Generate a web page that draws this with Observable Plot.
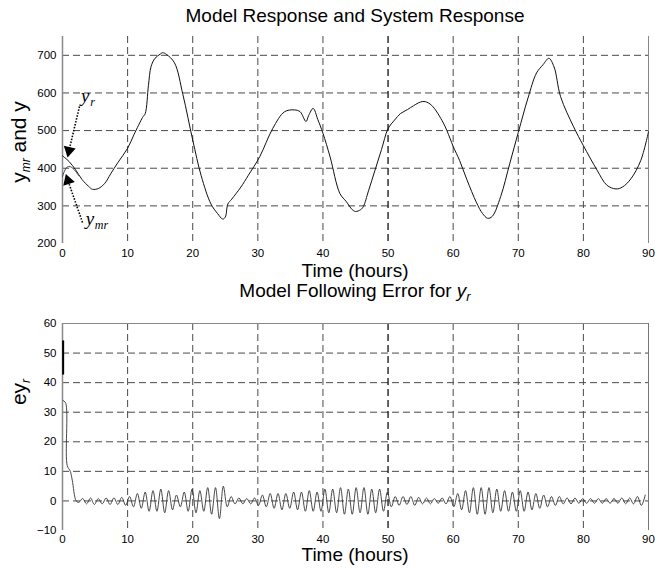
<!DOCTYPE html>
<html>
<head>
<meta charset="utf-8">
<script src="https://cdn.jsdelivr.net/npm/d3@7"></script>
<script src="https://cdn.jsdelivr.net/npm/@observablehq/plot@0.6"></script>
<style>
  body { margin: 0; background: #fff; font-family: "Liberation Sans", Arial, sans-serif; }
  #wrap { position: relative; width: 655px; height: 574px; overflow: hidden; }
  .abs { position: absolute; white-space: nowrap; color: #000; line-height: 1; }
  .title { font-size: 19px; left: 62px; width: 586px; text-align: center; }
  .xlab { font-size: 19px; left: 62px; width: 586px; text-align: center; }
  .ylab { font-size: 21px; transform: translate(-50%, -50%) rotate(-90deg); }
  sub { font-size: 12px; font-style: italic; vertical-align: -4px; line-height: 0; }
  #top, #bot { position: absolute; left: 0; }
</style>
</head>
<body>
<div id="wrap">
  <div id="top" style="top:0px"></div>
  <div id="bot" style="top:285px"></div>
  <div class="abs title" style="top:6px">Model Response and System Response</div>
  <div class="abs xlab" style="top:261px">Time (hours)</div>
  <div class="abs title" style="top:281px">Model Following Error for <i>y</i><sub style="font-size:13px">r</sub></div>
  <div class="abs xlab" style="top:545px">Time (hours)</div>
  <div class="abs ylab" style="left:18px; top:142px">y<sub>mr</sub> and y</div>
  <div class="abs ylab" style="left:18px; top:392px">ey<sub>r</sub></div>
</div>
<script>
// ---- tick values ----
const xTicks = [0, 10, 20, 30, 40, 50, 60, 70, 80, 90];
const topYTicks = [200, 300, 400, 500, 600, 700];
const errYTicks = [-10, 0, 10, 20, 30, 40, 50, 60];

// ---- top panel: system response y_r (hours, value) ----
const yrTime = [0, 1, 2, 3, 4, 4.6, 5.5, 6.5, 7.4, 8.5, 10, 11, 12.3, 12.7, 13.2, 13.6, 14.2, 15, 15.4, 16, 17.2, 18.5, 20, 21.3, 22.8, 23.8, 24.6, 25, 25.4, 26, 27.4, 28.5, 30.3, 32.3, 34.1, 35.6, 36.5, 37.4, 37.8, 38.5, 39.2, 40, 41.1, 42.6, 43.6, 44.5, 45, 45.8, 46.2, 47, 48, 49, 50, 51, 51.9, 53, 53.9, 55, 55.7, 56.7, 58.5, 59.5, 60, 61, 62.1, 63.6, 64.5, 65.3, 66, 67.3, 68.7, 70, 71.5, 72.8, 73.8, 74.7, 75.5, 76.5, 78.5, 80, 82.1, 83.6, 85, 86, 87.3, 88.8, 90];
const yrValue = [433, 418, 396, 370, 352, 344, 346, 360, 385, 415, 453, 490, 535, 545, 620, 670, 692, 703, 707, 702, 680, 595, 475, 380, 305, 280, 265, 270, 305, 318, 350, 380, 431, 506, 550, 555, 550, 524, 540, 559, 530, 493, 430, 333, 311, 290, 285, 290, 298, 340, 395, 450, 505, 528, 545, 556, 566, 576, 577, 567, 520, 480, 458, 420, 370, 308, 280, 267, 272, 325, 413, 495, 587, 653, 675, 692, 669, 590, 510, 460, 395, 355, 345, 350, 372, 420, 497];

// ---- top panel: model response y_mr at the start (where it differs) ----
const ymrTime = [0, 0.3, 0.7, 1.2, 1.8, 2.5];
const ymrValue = [378, 392, 403, 404, 396, 380];

// ---- bottom panel: model following error ey_r ----
const errSpikeTime = [0.1, 0.1];
const errSpikeValue = [54, 43];
const errStartTime = [0.1, 0.5, 0.72, 1.2, 1.5, 2.1];
const errStartValue = [34, 33, 12, 10, 7, 0];
const errOscStart = 2.5, errOscStep = 0.6;   // successive peaks / troughs
const errOscValue = [
  -0.5, 0.8, -1, 1, -1.2, 0.8, -1, 1, -1.2, 1,
  -1.2, 1.2, -1.5, 1.5, -2, 2.5, -2.5, 3, -3.5, 3.5,
  -3.5, 4, -4, 3.5, -3, 2, -2, 3, -3.5, 4,
  -4, 3.5, -3.5, 4.5, -4.5, 4.5, -6, 5, -2, 1.5,
  -1, 1, -1, 0.8, -1, 1, -1.5, 2, -2, 2.5,
  -2.5, 2.5, -3, 2.5, -2.5, 3, -3, 3, -3.5, 3.5,
  -3.5, 3, -3.5, 4, -4, 4, -4, 4.5, -4.5, 4,
  -4.5, 4.5, -4, 4.5, -4.5, 4, -4, 4, -3.5, 3,
  -2, 1.5, -1.5, 1.5, -1.2, 1.5, -1.5, 1.2, -1, 1,
  -1, 0.8, -0.8, 1, -1, 1.5, -2, 2.5, -3, 3.5,
  -4, 4.5, -4.5, 4.5, -4.5, 4.5, -4, 4, -3.5, 3.5,
  -3.5, 3, -3.5, 3.5, -3.5, 3, -3, 2.5, -2.5, 2,
  -2, 1.5, -1.5, 1.5, -1, 1, -1, 1, -0.8, 0.8,
  -0.8, 0.8, -0.8, 0.8, -0.8, 0.8, -0.8, 0.8, -0.8, 1,
  -1, 1, -1, 1.5, -1.5, 2
];

// build tables
const yr = yrTime.map((t, i) => ({t, v: yrValue[i]}));
const ymr = ymrTime.map((t, i) => ({t, v: ymrValue[i]}));
const errSpike = errSpikeTime.map((t, i) => ({t, v: errSpikeValue[i]}));
const errOsc = errStartTime.map((t, i) => ({t, v: errStartValue[i]}))
  .concat(errOscValue.map((v, i) => ({t: errOscStart + i * errOscStep, v})));

const font = "'Liberation Sans', Arial, sans-serif";
const gridColor = "#4a4a4a";
const dash = "7,4";

function gridMarks(yGrid, xGridVals) {
  return [
    Plot.ruleY(yGrid, {stroke: gridColor, strokeDasharray: dash, strokeWidth: 1}),
    Plot.ruleX(xGridVals.filter(d => d !== 50), {stroke: gridColor, strokeDasharray: dash, strokeWidth: 1}),
    Plot.ruleX(xGridVals.filter(d => d === 50), {stroke: "#111", strokeDasharray: dash, strokeWidth: 1.3})
  ];
}

const xInner = xTicks.filter(d => d > 0 && d < 90);

const topPlot = Plot.plot({
  width: 655, height: 285,
  marginTop: 36, marginBottom: 42, marginLeft: 62, marginRight: 7,
  style: {fontFamily: font, fontSize: "11px", color: "#000", background: "transparent"},
  x: {domain: [0, 90]},
  y: {domain: [200, 750]},
  marks: [
    ...gridMarks(topYTicks.filter(d => d > 200), xInner),
    Plot.ruleX([0], {stroke: "#888", strokeWidth: 1.5}),
    Plot.ruleX([90], {stroke: "#888", strokeWidth: 1}),
    Plot.axisX({ticks: xTicks, tickSize: 0, tickPadding: 5, label: null, fontSize: 11.5}),
    Plot.axisY({ticks: topYTicks, tickSize: 0, tickPadding: 6, label: null, fontSize: 11.5}),
    Plot.line(yr, {x: "t", y: "v", stroke: "#111", strokeWidth: 1, curve: "catmull-rom"}),
    Plot.line(ymr, {x: "t", y: "v", stroke: "#444", strokeWidth: 1, curve: "catmull-rom"}),
    // annotations
    Plot.link([{x1: 2.61, y1: 564, x2: 1.0, y2: 447}], {x1: "x1", y1: "y1", x2: "x2", y2: "y2", stroke: "#000", strokeWidth: 1.6, strokeDasharray: "1.5,1.5"}),
    Plot.dot([{x: 1.0, y: 447}], {x: "x", y: "y", symbol: "triangle", r: 4.5, fill: "#000", stroke: "none", rotate: 192}),
    Plot.link([{x1: 3.07, y1: 256, x2: 0.84, y2: 367}], {x1: "x1", y1: "y1", x2: "x2", y2: "y2", stroke: "#000", strokeWidth: 1.6, strokeDasharray: "1.5,1.5"}),
    Plot.dot([{x: 0.84, y: 367}], {x: "x", y: "y", symbol: "triangle", r: 4.5, fill: "#000", stroke: "none", rotate: -18}),
    Plot.text([{x: 3.5, y: 592}], {x: "x", y: "y", text: () => "y", fontFamily: "'Liberation Serif', serif", fontStyle: "italic", fontSize: 19, textAnchor: "middle"}),
    Plot.text([{x: 3.5, y: 592}], {x: "x", y: "y", text: () => "r", fontFamily: "'Liberation Serif', serif", fontStyle: "italic", fontSize: 12, textAnchor: "start", dx: 5, dy: 6}),
    Plot.text([{x: 4.2, y: 265}], {x: "x", y: "y", text: () => "y", fontFamily: "'Liberation Serif', serif", fontStyle: "italic", fontSize: 19, textAnchor: "middle"}),
    Plot.text([{x: 4.2, y: 265}], {x: "x", y: "y", text: () => "mr", fontFamily: "'Liberation Serif', serif", fontStyle: "italic", fontSize: 12, textAnchor: "start", dx: 5, dy: 6})
  ]
});
document.getElementById("top").appendChild(topPlot);

const botPlot = Plot.plot({
  width: 655, height: 289,
  marginTop: 38, marginBottom: 44, marginLeft: 62, marginRight: 7,
  style: {fontFamily: font, fontSize: "11px", color: "#000", background: "transparent"},
  x: {domain: [0, 90]},
  y: {domain: [-10, 60]},
  marks: [
    ...gridMarks(errYTicks.filter(d => d > -10 && d < 60), xInner),
    Plot.ruleX([0], {stroke: "#888", strokeWidth: 1.5}),
    Plot.ruleX([90], {stroke: "#777", strokeWidth: 1}),
    Plot.ruleY([60], {stroke: "#888", strokeWidth: 1.2}),
    Plot.axisX({ticks: xTicks, tickSize: 0, tickPadding: 4, label: null, fontSize: 11.5}),
    Plot.axisY({ticks: errYTicks, tickSize: 0, tickPadding: 6, label: null, fontSize: 11.5}),
    Plot.line(errOsc, {x: "t", y: "v", stroke: "#333", strokeWidth: 0.9, curve: "catmull-rom"}),
    Plot.line(errSpike, {x: "t", y: "v", stroke: "#000", strokeWidth: 2})
  ]
});
document.getElementById("bot").appendChild(botPlot);
</script>
</body>
</html>
